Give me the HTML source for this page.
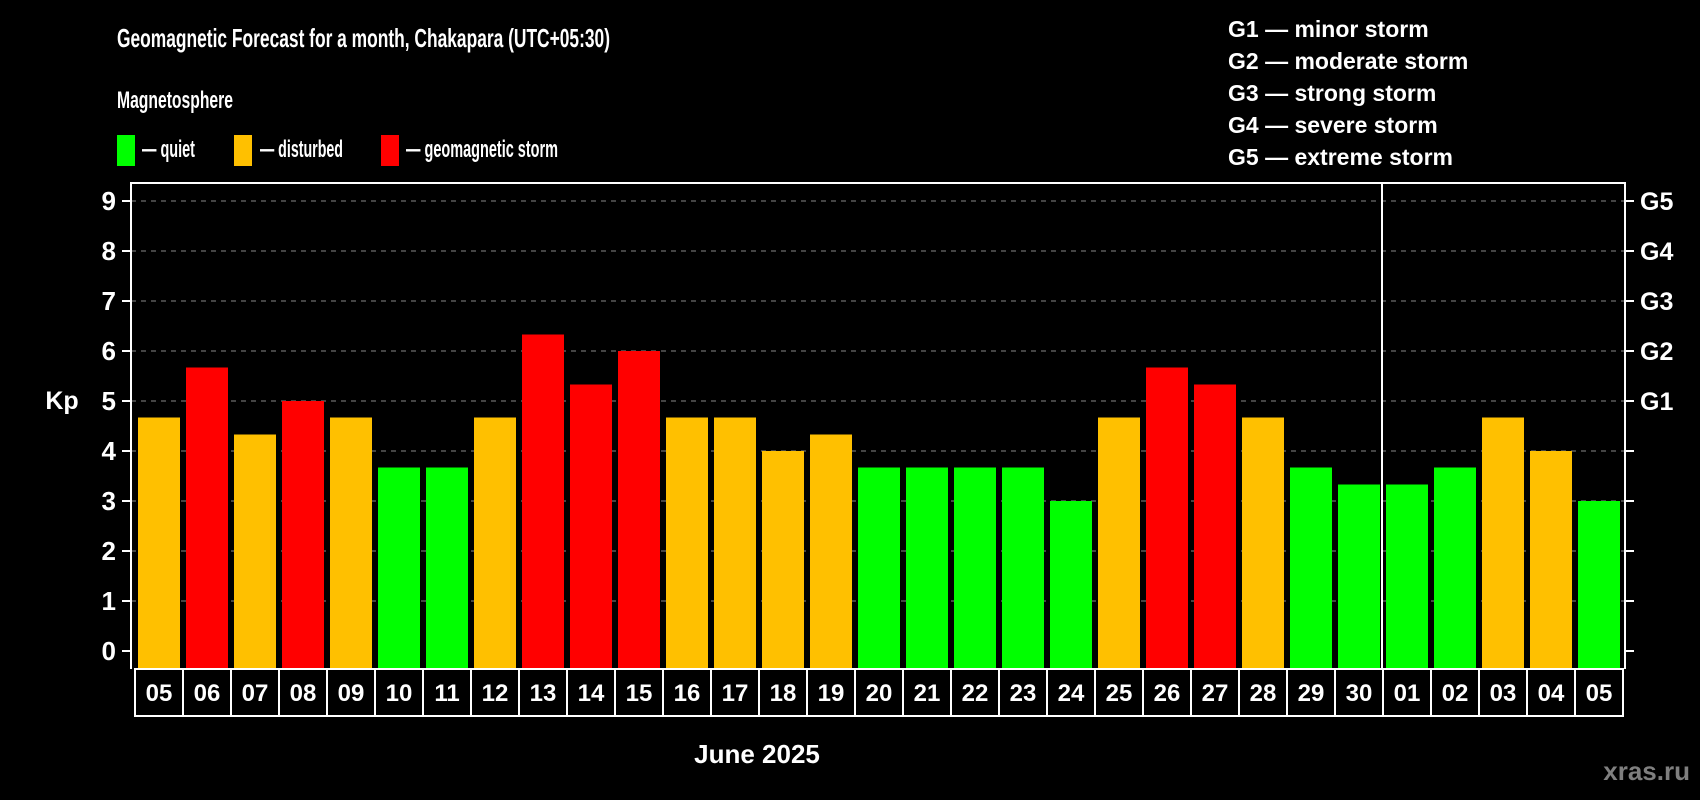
<!DOCTYPE html>
<html><head><meta charset="utf-8"><style>
html,body{margin:0;padding:0;background:#000;}
svg{display:block;font-family:"Liberation Sans",Arial,sans-serif;font-weight:bold;}
</style></head><body>
<svg id="chart" width="1700" height="800" viewBox="0 0 1700 800">
<rect width="1700" height="800" fill="#000"/>
<text x="117" y="47" font-size="26" fill="#fff" textLength="493" lengthAdjust="spacingAndGlyphs">Geomagnetic Forecast for a month, Chakapara (UTC+05:30)</text>
<text x="117" y="108" font-size="24" fill="#fff" textLength="116" lengthAdjust="spacingAndGlyphs">Magnetosphere</text>
<g><rect x="117" y="135" width="18" height="31" fill="#00ff00"/><text x="142" y="157" font-size="24" fill="#fff" textLength="53" lengthAdjust="spacingAndGlyphs">— quiet</text></g>
<g><rect x="234" y="135" width="18" height="31" fill="#ffc000"/><text x="260" y="157" font-size="24" fill="#fff" textLength="83" lengthAdjust="spacingAndGlyphs">— disturbed</text></g>
<g><rect x="381" y="135" width="18" height="31" fill="#ff0000"/><text x="406" y="157" font-size="24" fill="#fff" textLength="152" lengthAdjust="spacingAndGlyphs">— geomagnetic storm</text></g>
<g font-size="23" fill="#fff">
<text x="1228" y="37">G1 — minor storm</text>
<text x="1228" y="69">G2 — moderate storm</text>
<text x="1228" y="101">G3 — strong storm</text>
<text x="1228" y="133">G4 — severe storm</text>
<text x="1228" y="165">G5 — extreme storm</text>
</g>
<g id="grid"></g>
<g id="bars"></g>
<g id="axes"></g>
<text x="62" y="409" font-size="25" fill="#fff" text-anchor="middle">Kp</text>
<text x="757" y="763" font-size="26" fill="#fff" text-anchor="middle">June 2025</text>
<text x="1690" y="780" font-size="26" fill="#7f7f7f" text-anchor="end">xras.ru</text>
</svg>
<script>
const days = ["05","06","07","08","09","10","11","12","13","14","15","16","17","18","19","20","21","22","23","24","25","26","27","28","29","30","01","02","03","04","05"];
const kpValues = [4.67,5.67,4.33,5,4.67,3.67,3.67,4.67,6.33,5.33,6,4.67,4.67,4,4.33,3.67,3.67,3.67,3.67,3,4.67,5.67,5.33,4.67,3.67,3.33,3.33,3.67,4.67,4,3];
const yTicks = [0,1,2,3,4,5,6,7,8,9];
const gLabels = ["G1","G2","G3","G4","G5"];
const gLevels = [5,6,7,8,9];
const monthBreakIndex = 26;

const NS="http://www.w3.org/2000/svg";
const L=131,R=1625,T=183,B=669,Y0=651,PX=50,SLOT=48,X0=134;
function yScale(v){return Y0-v*PX;}
function xScale(i){return X0+i*SLOT;}
function mk(tag,attrs,parent){const e=document.createElementNS(NS,tag);for(const k in attrs)e.setAttribute(k,attrs[k]);parent.appendChild(e);return e;}
const grid=document.getElementById('grid'),bars=document.getElementById('bars'),axes=document.getElementById('axes');
yTicks.forEach(v=>{
  const y=yScale(v);
  if(v>0){const g=mk('line',{x1:L,x2:R,y1:y,y2:y,stroke:'#888','stroke-width':1,'stroke-dasharray':'5,5'},grid);
  
  }
  const t=mk('line',{x1:L-9,x2:L,y1:y,y2:y,stroke:'#fff','stroke-width':2},axes);
  
  
  const t2=mk('line',{x1:R,x2:R+9,y1:y,y2:y,stroke:'#fff','stroke-width':2},axes);
  
  
  const lb=mk('text',{x:L-15,y:y+9,'font-size':26,fill:'#fff','text-anchor':'end'},axes);
  lb.textContent=v;
  
  
});
gLabels.forEach((g,i)=>{
  const lb=mk('text',{x:R+15,y:yScale(gLevels[i])+9,'font-size':25,fill:'#fff'},axes);
  lb.textContent=g;
  
  
});
function color(v){return v<4?'#00ff00':(v<5?'#ffc000':'#ff0000');}
kpValues.forEach((v,i)=>{
  const x=xScale(i)+4;
  const r=mk('rect',{x:x,y:yScale(v),width:42,height:B-yScale(v)-1,fill:color(v)},bars);
  
  
});
kpValues.length;
days.forEach((d,i)=>{
  const x=xScale(i)+1;
  const c=mk('rect',{x:x,y:B,width:SLOT,height:47,fill:'none',stroke:'#fff','stroke-width':2},axes);
  
  
  const t=mk('text',{x:x+SLOT/2,y:B+32,'font-size':24,fill:'#fff','text-anchor':'middle'},axes);
  t.textContent=d;
  
  
});
const frame=mk('path',{d:`M${L},${B} L${L},${T} L${R},${T} L${R},${B}`,fill:'none',stroke:'#fff','stroke-width':2},axes);


const bl=mk('line',{x1:xScale(monthBreakIndex),x2:xScale(monthBreakIndex),y1:T,y2:B,stroke:'#fff','stroke-width':2},axes);


</script>
</body></html>
